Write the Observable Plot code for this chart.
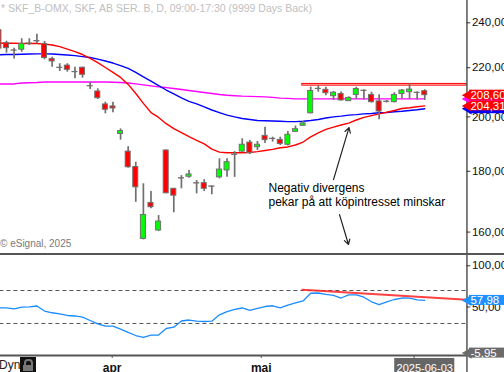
<!DOCTYPE html>
<html><head><meta charset="utf-8">
<script src="https://cdn.jsdelivr.net/npm/d3@7"></script>
<script src="https://cdn.jsdelivr.net/npm/@observablehq/plot@0.6"></script>
<style>
body{margin:0;background:#fff;}
#wrap{position:relative;width:504px;height:372px;overflow:hidden;font-family:"Liberation Sans",Arial,sans-serif;}
#topPanel,#botPanel{display:block;line-height:0;}
#sep{height:2px;background:#555;}
.ov{position:absolute;white-space:nowrap;line-height:1;}
#title{left:1px;top:3px;font-size:10.5px;color:#c0c0c0;}
#copy{left:0px;top:239px;font-size:10px;color:#7a7a7a;}
#dyn{left:-1px;top:359px;font-size:12px;color:#222;}
#lock{left:20px;top:357px;width:16px;height:15px;background:#111;}
#lock .sh{position:absolute;left:4px;top:2px;width:5px;height:5px;border:2px solid #777;border-bottom:none;border-radius:4px 4px 0 0;}
#lock .bd{position:absolute;left:3px;top:8px;width:10px;height:6px;background:#777;}
</style></head><body>
<div id="wrap">
  <div id="topPanel"></div>
  <div id="sep"></div>
  <div id="botPanel"></div>
  <div class="ov" id="title">* SKF_B-OMX, SKF, AB SER. B, D, 09:00-17:30 (9999 Days Back)</div>
  <div class="ov" id="copy">© eSignal, 2025</div>
  <div class="ov" id="dyn">Dyn</div>
  <div class="ov" id="lock"><div class="sh"></div><div class="bd"></div></div>
</div>
<script>
// ---- data (daily bars, last bar = 2025-06-03) ----
const opens  = [236.6,230.7,227.5,227.8,230.5,231.5,230.4,223.7,220.0,220.9,218.2,220.0,212.3,210.1,204.9,204.1,193.5,187.0,181.5,157.9,169.3,160.5,187.4,174.0,177.6,178.1,175.9,175.9,174.8,177.9,180.3,185.8,187.0,190.3,188.6,192.8,191.6,191.3,189.5,194.3,196.6,201.4,211.1,210.8,208.2,209.1,206.2,208.7,210.4,208.7,206.1,206.0,205.8,209.1,209.8,209.6,210.2];
const highs  = [237.5,231.6,228.5,232.7,232.7,234.7,231.5,224.5,221.7,221.7,220.2,220.2,213.9,211.2,205.8,205.8,195.4,188.8,183.2,175.7,173.1,165.2,187.6,174.1,178.5,180.3,176.8,177.1,174.9,184.4,184.4,187.0,191.7,191.1,190.7,196.0,192.3,192.3,194.4,196.5,198.2,211.9,212.4,211.8,210.1,209.9,207.9,211.8,210.8,209.8,208.8,206.5,209.6,210.9,213.2,209.9,210.8];
const lows   = [228.0,226.3,223.8,226.7,229.7,230.5,223.4,220.2,218.4,218.1,215.3,215.6,210.9,206.9,201.2,201.6,191.2,181.1,169.5,157.6,167.4,160.2,172.3,166.1,174.0,177.6,172.3,173.1,172.0,177.4,177.9,177.9,186.8,185.9,187.4,190.0,190.5,189.2,189.0,194.1,196.4,201.2,209.8,208.4,206.5,206.3,206.1,206.9,206.7,205.4,198.9,205.5,205.5,207.2,207.0,206.7,206.5];
const closes = [228.3,228.5,227.4,230.4,230.6,231.7,224.2,222.7,219.9,219.1,218.1,217.0,212.2,207.4,202.8,203.3,194.6,181.4,174.5,165.4,167.9,163.3,172.5,171.7,177.5,178.9,175.8,174.0,174.7,180.6,183.2,185.9,189.5,186.5,189.5,191.2,191.7,189.8,193.2,195.3,197.5,210.3,211.2,209.4,209.6,206.5,207.5,211.1,210.3,205.8,202.1,205.9,208.7,210.5,210.9,209.5,208.6];
const maRed     = [230.7,230.7,230.7,230.6,230.6,230.6,230.3,229.9,229.2,228.1,227.0,225.7,224.0,222.2,220.1,218.0,215.9,213.0,209.3,205.3,201.7,199.8,197.4,195.5,194.0,192.5,191.1,189.8,187.9,186.8,186.6,186.6,186.6,186.7,187.0,187.4,187.8,188.4,188.7,189.4,190.5,192.4,193.9,195.2,196.1,196.9,197.6,198.8,199.8,200.5,201.2,201.8,202.5,203.3,203.6,204.0,204.31];
const maBlue    = [225.6,225.7,225.7,225.8,225.9,226.0,226.0,225.9,225.7,225.5,225.2,224.8,224.4,223.7,222.9,222.0,220.9,219.7,218.0,216.1,214.4,212.5,210.7,209.1,207.5,206.1,205.1,203.9,202.7,201.7,200.7,200.0,199.4,199.0,198.6,198.5,198.4,198.3,198.2,198.2,198.3,198.6,199.0,199.6,200.0,200.3,200.7,200.9,201.2,201.3,201.6,201.7,202.0,202.2,202.5,202.8,203.2];
const maMagenta = [213.2,213.2,213.2,213.6,213.7,213.8,214.0,214.0,214.0,214.0,214.0,214.0,214.0,214.0,214.0,213.9,213.8,213.6,213.2,212.8,212.4,212.0,211.7,211.3,210.9,210.5,210.1,209.7,209.3,208.9,208.6,208.4,208.2,208.1,208.0,207.9,207.7,207.4,207.3,207.1,207.1,207.1,207.1,207.1,207.1,207.1,207.1,207.1,207.1,207.1,207.1,207.1,207.1,207.1,207.1,207.1,207.1];
const oscillator = [49.0,49.0,47.8,49.8,50.2,51.2,45.1,43.0,41.7,39.7,39.1,37.6,33.6,29.6,26.7,26.7,23.1,19.1,15.4,13.0,15.8,16.0,23.9,25.5,33.0,34.2,32.8,32.4,32.8,40.5,44.5,47.0,48.8,45.8,48.2,50.6,51.5,49.0,52.4,54.9,57.3,66.7,67.0,65.2,64.0,60.9,64.6,64.8,61.9,56.3,53.0,56.3,59.1,60.9,60.7,58.7,57.98];

const priceTicks = [240,220,200,180,160];
const priceTickLabels = ["240,00","220,00","200,00","180,00","160,00"];
const oscTicks = [100,50];
const oscTickLabels = ["100,00","50,00"];
const oscLevels = [70,30];
const monthTickPos = [14.9,34.5,54.6];
const monthLabels = ["apr","mai",""];
const lastBarLabel = "2025-06-03";
const resistance = {from:39.9, lo:212.5, hi:213.2};
const oscTrend = [{i:39.9,v:70.9},{i:61.55,v:58.7}];
const noteLines = ["Negativ divergens","pekar på att köpintresset minskar"];
const notePos = [{i:35.45,p:174.1},{i:35.45,p:169.4}];
const arrows = [{i1:44.0,p1:177.1,i2:46.04,p2:195.9},{i1:44.79,p1:165.5,i2:45.97,p2:156.2}];
const badgeVal = [
  {v:maMagenta[56], c:"#ff00ff", t:""},
  {v:maBlue[56], c:"#0000ff", t:""},
  {v:closes[56], c:"#ff0000", t:"208,60"},
  {v:maRed[56], c:"#ff0000", t:"204,31"}
];
const oscBadges = [{v:57.98,c:"#1e90ff",t:"57,98"},{v:-5.95,c:"#6b6b6b",t:"-5,95"}];

(function(){
const bars = opens.map((o,i)=>({i,o,h:highs[i],l:lows[i],c:closes[i]}));
const xDom = [0.21, 61.49];
const axisX = 61.55, badgeX1 = 61.88, badgeX2 = 66.6;
const font = "'Liberation Sans', Arial, sans-serif";
const pk = Math.exp(5/516);
const yDom = [153.5, 250.6];
const up = "#00ff00", dn = "#ff0000", edge = "#707070";

const pricePlot = Plot.plot({
  width:504, height:253, marginLeft:0, marginRight:38, marginTop:0, marginBottom:0,
  style:{fontFamily:font, background:"transparent"},
  x:{domain:xDom, axis:null},
  y:{type:"log", domain:yDom, axis:null},
  marks:[
    Plot.rect([resistance],{x1:d=>d.from,x2:xDom[1],y1:d=>d.lo,y2:d=>d.hi,fill:"#ffd8d8",stroke:"#ff0000",strokeWidth:1}),
    Plot.line(maMagenta,{x:(d,i)=>i,y:d=>d,stroke:"#ff00ff",strokeWidth:1.4}),
    Plot.line(maBlue,{x:(d,i)=>i,y:d=>d,stroke:"#0000ff",strokeWidth:1.4}),
    Plot.line(maRed,{x:(d,i)=>i,y:d=>d,stroke:"#ff0000",strokeWidth:1.4}),
    Plot.ruleX(bars,{x:"i",y1:"l",y2:"h",stroke:edge,strokeWidth:1.7}),
    Plot.rect(bars,{x1:d=>d.i-0.33,x2:d=>d.i+0.33,y1:"o",y2:"c",fill:d=>d.c>=d.o?up:dn,stroke:edge,strokeWidth:1}),
    Plot.text(noteLines,{x:(d,i)=>notePos[i].i,y:(d,i)=>notePos[i].p,text:d=>d,textAnchor:"start",fontSize:12,fill:"#000"}),
    Plot.arrow(arrows,{x1:"i1",y1:"p1",x2:"i2",y2:"p2",stroke:"#222",strokeWidth:1.2,headLength:7}),
    Plot.ruleX([axisX],{stroke:"#555",strokeWidth:1.5}),
    Plot.ruleY(priceTicks,{x1:axisX,x2:axisX+0.5,stroke:"#333",strokeWidth:1}),
    Plot.text(priceTicks,{x:axisX,y:d=>d,text:(d,i)=>priceTickLabels[i],textAnchor:"start",dx:5,fontSize:11.5,fill:"#111"}),
    Plot.rect(badgeVal,{x1:badgeX1,x2:badgeX2,y1:d=>d.v/pk,y2:d=>d.v*pk,fill:d=>d.c}),
    Plot.dot(badgeVal,{x:axisX+0.18,y:"v",symbol:"triangle",rotate:-90,r:4.2,fill:d=>d.c,stroke:"none"}),
    Plot.text(badgeVal,{x:badgeX1,y:"v",text:"t",textAnchor:"start",dx:1,fontSize:11.5,fill:"#fff"})
  ]
});
document.getElementById("topPanel").appendChild(pricePlot);

const oDom = [-8.86, 112.5];
const ok = 6.07;
const oscPlot = Plot.plot({
  width:504, height:117, marginLeft:0, marginRight:38, marginTop:0, marginBottom:17,
  style:{fontFamily:font, background:"transparent"},
  x:{domain:xDom, axis:null},
  y:{domain:oDom, axis:null},
  marks:[
    Plot.ruleY(oscLevels,{x1:xDom[0]-1,x2:xDom[1],stroke:"#555",strokeWidth:1,strokeDasharray:"4,3"}),
    Plot.line(oscTrend,{x:"i",y:"v",stroke:"#ff2020",strokeWidth:2,strokeOpacity:0.85}),
    Plot.line(oscillator,{x:(d,i)=>i,y:d=>d,stroke:"#1a8cff",strokeWidth:1.3}),
    Plot.ruleY([oDom[0]],{x1:xDom[0]-1,x2:axisX,stroke:"#555",strokeWidth:2}),
    Plot.ruleX([axisX],{y1:oDom[0]-25,y2:oDom[1],stroke:"#555",strokeWidth:1.5}),
    Plot.ruleX(monthTickPos,{y1:oDom[0],y2:oDom[0]-3.6,stroke:"#555",strokeWidth:1}),
    Plot.text(monthTickPos,{x:d=>d,y:oDom[0],text:(d,i)=>monthLabels[i],dy:13,fontSize:12,fontWeight:"bold",fill:"#111"}),
    Plot.rect([56],{x1:d=>d-3.95,x2:d=>d+3.95,y1:oDom[0]-3.6,y2:oDom[0]-25,fill:"#666"}),
    Plot.text([56],{x:d=>d,y:oDom[0],text:()=>lastBarLabel,dy:12.5,fontSize:11,fill:"#fff"}),
    Plot.ruleY(oscTicks,{x1:axisX,x2:axisX+0.5,stroke:"#333",strokeWidth:1}),
    Plot.text(oscTicks,{x:axisX,y:d=>d,text:(d,i)=>oscTickLabels[i],textAnchor:"start",dx:5,fontSize:11.5,fill:"#111"}),
    Plot.rect(oscBadges,{x1:badgeX1,x2:badgeX2,y1:d=>d.v-ok,y2:d=>d.v+ok,fill:d=>d.c}),
    Plot.dot(oscBadges,{x:axisX+0.18,y:"v",symbol:"triangle",rotate:-90,r:4.2,fill:d=>d.c,stroke:"none"}),
    Plot.text(oscBadges,{x:badgeX1,y:"v",text:"t",textAnchor:"start",dx:1,fontSize:11.5,fill:"#fff"})
  ]
});
document.getElementById("botPanel").appendChild(oscPlot);
})();
</script>
</body></html>
